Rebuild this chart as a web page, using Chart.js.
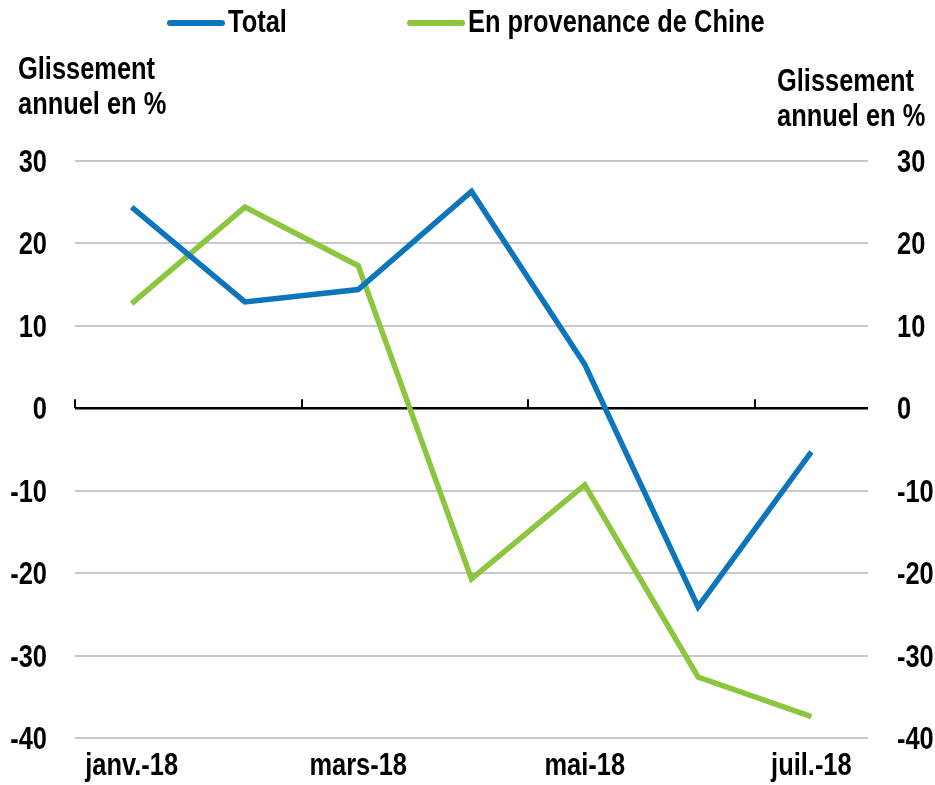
<!DOCTYPE html>
<html lang="fr">
<head>
<meta charset="utf-8">
<script src="https://cdn.jsdelivr.net/npm/chart.js@4.4.1/dist/chart.umd.min.js"></script>
<style>
    html, body { margin: 0; padding: 0; background: #fff; }
    #wrap { position: relative; width: 935px; height: 785px; }
    #wrap canvas { position: absolute; left: 0; top: 0; }
    .txt {
        position: absolute;
        font-family: 'Liberation Sans', Arial, sans-serif;
        font-weight: bold;
        font-size: 31px;
        color: #000;
        white-space: nowrap;
        transform: scaleX(0.82);
        transform-origin: left top;
    }
    .sw { position: absolute; width: 58px; height: 6px; border-radius: 3px; }
    .leg { line-height: 34px; }
    .ytitle { line-height: 35px; }
</style>
</head>
<body>
<div id="wrap">
    <canvas id="lineChart" width="935" height="785"></canvas>
    <div class="sw" style="left:167px; top:20px; background:#0C75BC"></div>
    <div class="txt leg" style="left:228px; top:5px;">Total</div>
    <div class="sw" style="left:407px; top:20px; background:#8CC63F"></div>
    <div class="txt leg" style="left:468px; top:5px;">En provenance de Chine</div>
    <div class="txt ytitle" style="left:18px; top:51px;">Glissement<br>annuel en %</div>
    <div class="txt ytitle" style="left:777px; top:63px;">Glissement<br>annuel en %</div>
</div>
<script>
    // données (glissement annuel, %)
    const mois = ['janv.-18', 'févr.-18', 'mars-18', 'avr.-18', 'mai-18', 'juin-18', 'juil.-18'];
    const total = [24.4, 12.9, 14.4, 26.3, 5.3, -24.1, -5.3];
    const chine = [12.7, 24.4, 17.3, -20.7, -9.3, -32.6, -37.4];
    const yTicks = [-40, -30, -20, -10, 0, 10, 20, 30];

    const police = "bold 31px 'Liberation Sans', Arial, sans-serif";
    const etroit = 0.82; // pas de police étroite installée : on resserre le texte

    function texteEtroit(ctx, txt, x, y, align) {
        ctx.save();
        ctx.translate(x, y);
        ctx.scale(etroit, 1);
        ctx.textAlign = align;
        ctx.fillText(txt, 0, 0);
        ctx.restore();
    }

    // ligne du zéro et petites graduations (tous les deux mois)
    const axeZero = {
        id: 'axeZero',
        beforeDatasetsDraw(chart) {
            const { ctx, chartArea, scales } = chart;
            const x = scales.x, y = scales.y;
            const y0 = y.getPixelForValue(0);
            const pas = x.getPixelForValue(1) - x.getPixelForValue(0);
            ctx.save();
            ctx.strokeStyle = '#000';
            ctx.lineWidth = 2.5;
            ctx.beginPath();
            ctx.moveTo(chartArea.left, y0);
            ctx.lineTo(chartArea.right, y0);
            ctx.stroke();
            ctx.lineWidth = 2;
            for (let i = 0; i < mois.length; i += 2) {
                const px = Math.round(x.getPixelForValue(i) - pas / 2);
                ctx.beginPath();
                ctx.moveTo(px, y0);
                ctx.lineTo(px, y0 - 9);
                ctx.stroke();
            }
            ctx.restore();
        },
        afterDraw(chart) {
            const { ctx, chartArea, scales } = chart;
            ctx.save();
            ctx.font = police;
            ctx.fillStyle = '#000';
            ctx.textBaseline = 'alphabetic';
            yTicks.forEach(v => {
                const py = scales.y.getPixelForValue(v) + 11;
                texteEtroit(ctx, String(v), chartArea.left - 28, py, 'right');
                texteEtroit(ctx, String(v), chartArea.right + 29, py, 'left');
            });
            mois.forEach((m, i) => {
                if (i % 2 === 0) texteEtroit(ctx, m, scales.x.getPixelForValue(i), chartArea.bottom + 37, 'center');
            });
            ctx.restore();
        }
    };

    const yAxe = (pos, largeur) => ({
        type: 'linear',
        position: pos,
        min: yTicks[0],
        max: yTicks[yTicks.length - 1],
        afterFit(scale) { scale.width = largeur; },
        afterBuildTicks(scale) { scale.ticks = yTicks.map(v => ({ value: v })); },
        border: { display: false },
        grid: {
            display: pos === 'left',
            drawTicks: false,
            color: c => c.tick && c.tick.value === 0 ? 'rgba(0,0,0,0)' : '#C8C8C8',
            lineWidth: 2
        },
        ticks: { display: false }
    });

    new Chart(document.getElementById('lineChart'), {
        type: 'line',
        data: {
            labels: mois,
            datasets: [
                {
                    label: 'Total',
                    data: total,
                    borderColor: '#0C75BC',
                    borderWidth: 5.5,
                    pointRadius: 0,
                    tension: 0
                },
                {
                    label: 'En provenance de Chine',
                    data: chine,
                    borderColor: '#8CC63F',
                    borderWidth: 5.5,
                    pointRadius: 0,
                    tension: 0
                }
            ]
        },
        options: {
            responsive: false,
            animation: false,
            layout: { padding: { top: 161, left: 0, right: 0, bottom: 0 } },
            plugins: {
                legend: { display: false },
                tooltip: { enabled: false }
            },
            scales: {
                x: {
                    offset: true,
                    afterFit(scale) { scale.height = 47; },
                    border: { display: false },
                    grid: { display: false },
                    ticks: { display: false }
                },
                y: yAxe('left', 75),
                y2: yAxe('right', 67)
            }
        },
        plugins: [axeZero]
    });
</script>
</body>
</html>
